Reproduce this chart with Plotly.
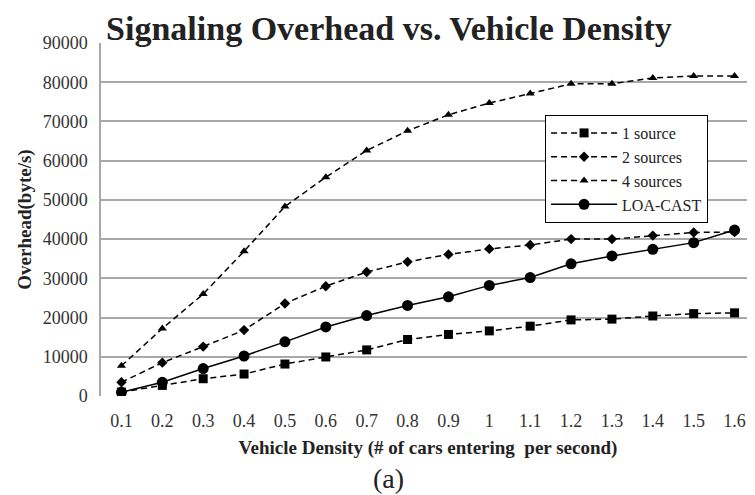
import plotly.graph_objects as go

densities = ["0.1", "0.2", "0.3", "0.4", "0.5", "0.6", "0.7", "0.8",
             "0.9", "1", "1.1", "1.2", "1.3", "1.4", "1.5", "1.6"]
one_source = [1000, 2700, 4400, 5600, 8150, 9950, 11750, 14400,
              15700, 16600, 17800, 19400, 19600, 20400, 21000, 21200]
two_sources = [3500, 8500, 12600, 16800, 23600, 28000, 31600, 34200,
               36100, 37500, 38500, 40000, 40000, 40900, 41700, 41800]
four_sources = [7700, 17200, 26000, 36900, 48300, 55800, 62600, 67600,
                71700, 74700, 77100, 79600, 79600, 81100, 81600, 81600]
loa_cast = [950, 3500, 7000, 10200, 13800, 17600, 20500, 23100,
            25300, 28200, 30200, 33700, 35700, 37400, 39100, 42300]

serif = "Times New Roman, Liberation Serif, serif"
txt = "#222222"

fig = go.Figure()
fig.add_trace(go.Scatter(x=densities, y=one_source, name="1 source", mode="lines+markers",
                         line=dict(color="black", width=1.5, dash="6px,4px"),
                         marker=dict(symbol="square", size=9, color="black")))
fig.add_trace(go.Scatter(x=densities, y=two_sources, name="2 sources", mode="lines+markers",
                         line=dict(color="black", width=1.5, dash="6px,4px"),
                         marker=dict(symbol="diamond", size=8, color="black")))
fig.add_trace(go.Scatter(x=densities, y=four_sources, name="4 sources", mode="lines+markers",
                         line=dict(color="black", width=1.5, dash="6px,4px"),
                         marker=dict(symbol="triangle-up", size=8, color="black")))
fig.add_trace(go.Scatter(x=densities, y=loa_cast, name="LOA-CAST", mode="lines+markers",
                         line=dict(color="black", width=1.5),
                         marker=dict(symbol="circle", size=11, color="black")))

fig.update_layout(
    width=747, height=487,
    margin=dict(l=93, r=0, t=35, b=99),
    paper_bgcolor="white", plot_bgcolor="white",
    font=dict(family=serif, color=txt),
    title=dict(text="<b>Signaling Overhead vs. Vehicle Density</b>",
               font=dict(size=34, color=txt, family=serif),
               x=0.51, xanchor="center", y=0.984, yanchor="top"),
    xaxis=dict(type="category", showgrid=False, showline=False, ticks="",
               tickfont=dict(size=18, color="#333333", family=serif), range=[-0.5, 15.5],
               ticklabelstandoff=12,
               title=dict(text="<b>Vehicle Density (# of cars entering  per second)</b>",
                          font=dict(size=19, color=txt, family=serif), standoff=10)),
    yaxis=dict(range=[0, 90000], dtick=10000, tickformat="d",
               showgrid=True, gridcolor="#a8a8a8", gridwidth=1.5,
               showline=True, linecolor="#a8a8a8", linewidth=1.5, zeroline=False,
               tickfont=dict(size=18, color="#333333", family=serif), ticks="", ticklen=0,
               ticklabelstandoff=8,
               title=dict(text="<b>Overhead(byte/s)</b>",
                          font=dict(size=19, color=txt, family=serif), standoff=6)),
    legend=dict(x=0.679, y=0.796, xanchor="left", yanchor="top",
                bordercolor="black", borderwidth=1, bgcolor="white",
                font=dict(size=16, color=txt, family=serif),
                itemwidth=66, tracegroupgap=0),
    showlegend=True,
)
fig.add_annotation(text="(a)", xref="paper", yref="paper", x=0.44, y=-0.235,
                   xanchor="center", yanchor="middle", showarrow=False,
                   font=dict(size=28, color=txt, family=serif))

fig.write_html("out.html")
